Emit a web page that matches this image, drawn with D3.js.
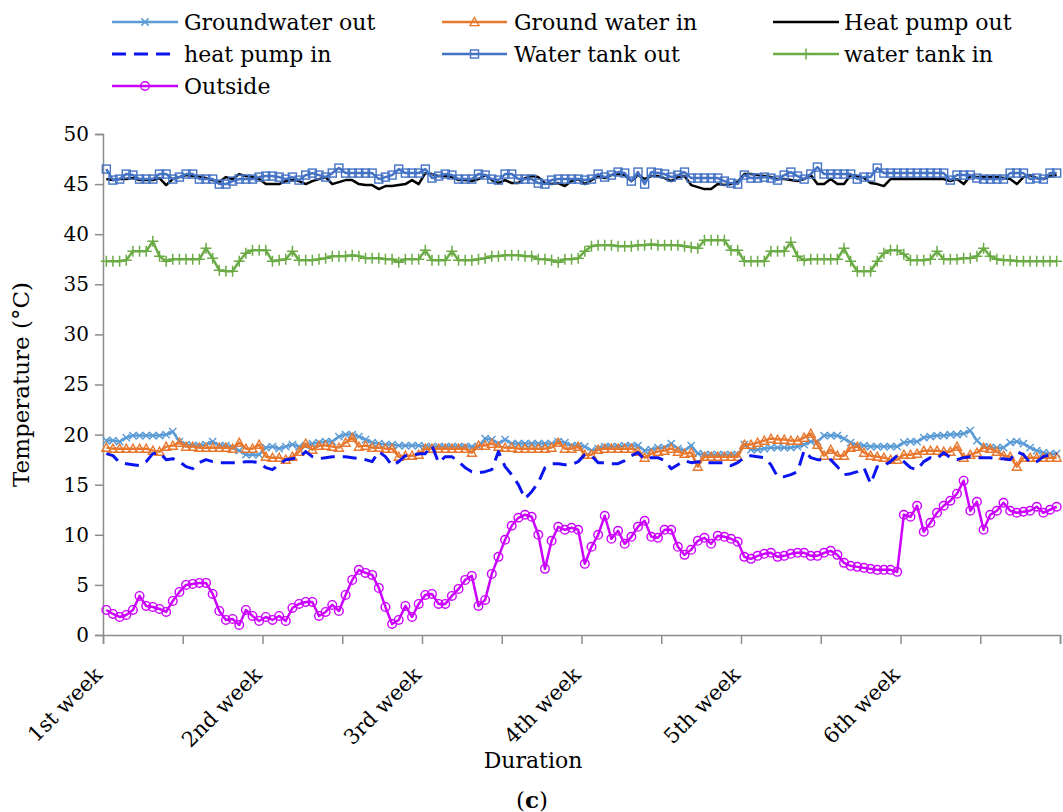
<!DOCTYPE html>
<html>
<head>
<meta charset="utf-8">
<script src="https://cdn.jsdelivr.net/npm/d3@7"></script>
<style>
  html, body { margin: 0; padding: 0; background: #fff; }
  svg { display: block; }
  text { font-family: "DejaVu Serif", serif; fill: #000; }
</style>
</head>
<body>
<svg id="chart" width="1063" height="812"></svg>
<script>
// ---------- data (144 readings, 24 per week) ----------
const weekLabels = ["1st week", "2nd week", "3rd week", "4th week", "5th week", "6th week"];
const yTicks = [0, 5, 10, 15, 20, 25, 30, 35, 40, 45, 50];

const groundwaterOut = [
  19.4,19.4,19.3,19.7,19.9,19.9,19.9,19.9,19.9,20.0,
  20.3,19.3,19.0,18.9,18.9,19.0,19.3,18.9,18.9,18.7,
  18.4,18.0,18.0,18.0,18.7,18.8,18.6,18.8,19.0,18.8,
  18.9,19.1,19.2,19.3,19.3,19.8,20.0,20.0,19.8,19.5,
  19.2,19.1,19.0,19.0,18.9,18.9,18.9,18.9,18.8,18.8,
  18.8,18.8,18.8,18.8,18.8,18.8,18.8,19.6,19.5,19.1,
  19.5,19.1,19.1,19.1,19.1,19.1,19.1,19.1,19.3,19.2,
  18.9,18.9,18.8,18.4,18.6,18.8,18.8,18.8,18.9,18.9,
  18.9,18.4,18.5,18.7,18.7,19.1,18.6,18.4,18.9,18.1,
  18.0,18.0,18.0,18.0,18.0,18.0,19.0,18.5,18.5,18.6,
  18.7,18.7,18.7,18.7,18.8,19.0,19.3,19.3,19.9,19.9,
  19.9,19.6,19.2,18.9,18.9,18.8,18.8,18.8,18.8,18.8,
  19.2,19.3,19.3,19.7,19.8,19.9,19.9,20.0,20.0,20.1,
  20.4,19.4,18.8,18.7,18.7,18.7,19.2,19.3,19.1,18.7,
  18.4,18.2,18.1,18.1
];
const groundWaterIn = [
  18.7,18.6,18.6,18.6,18.6,18.6,18.6,18.4,18.3,18.8,
  18.9,19.2,18.8,18.8,18.7,18.7,18.7,18.7,18.7,18.6,
  19.2,18.6,18.6,19.0,17.8,17.7,17.7,17.5,17.8,18.3,
  19.1,18.5,18.9,18.9,18.8,18.7,19.2,19.7,18.8,18.9,
  18.7,18.7,18.6,18.6,17.8,17.9,17.9,18.0,18.6,18.6,
  18.6,18.6,18.6,18.6,18.6,18.2,18.9,18.9,19.1,18.8,
  18.7,18.7,18.6,18.6,18.6,18.6,18.6,18.7,19.2,18.6,
  18.6,18.8,18.0,18.0,18.5,18.6,18.6,18.6,18.6,18.6,
  18.3,17.7,18.1,18.3,18.4,18.6,18.3,18.1,18.2,16.8,
  17.8,17.8,17.8,17.8,17.8,17.8,19.0,19.0,19.2,19.4,
  19.6,19.5,19.5,19.4,19.4,19.7,20.1,19.0,17.9,18.5,
  17.9,17.9,18.7,18.8,18.2,17.9,17.8,17.7,17.5,17.5,
  18.0,18.0,18.1,18.4,18.4,18.4,18.3,18.3,18.8,17.7,
  18.0,18.2,18.7,18.6,18.3,17.9,17.8,16.8,17.7,17.7,
  17.7,17.7,17.7,17.7
];
const heatPumpOut = [
  45.5,45.4,45.5,45.5,45.6,45.4,45.4,45.4,45.6,44.9,
  45.5,45.7,45.9,45.8,45.7,45.6,45.4,45.2,45.7,45.5,
  46.0,45.8,45.7,45.5,45.0,45.0,45.0,45.3,45.4,45.3,
  45.0,45.3,45.5,45.7,45.0,45.2,45.4,45.4,45.0,44.9,
  44.9,44.5,44.8,44.8,44.9,45.0,45.4,45.0,46.1,46.0,
  45.8,45.8,45.7,45.4,45.4,45.3,45.5,45.9,45.4,45.1,
  45.4,45.1,45.1,45.6,45.8,45.7,45.1,45.0,45.1,44.8,
  45.3,45.5,45.0,45.4,45.8,45.6,45.9,46.0,45.9,45.3,
  45.9,45.5,45.8,45.8,45.6,45.3,45.7,45.8,44.9,44.7,
  44.5,44.5,45.0,44.9,45.0,45.2,46.0,46.0,45.9,45.8,
  45.7,45.5,45.5,45.4,45.3,45.5,45.9,45.0,45.0,45.5,
  45.0,45.0,45.9,45.8,45.6,45.1,45.0,44.8,45.5,45.5,
  45.5,45.5,45.5,45.5,45.5,45.5,45.5,45.3,45.5,45.0,
  45.8,45.7,45.7,45.7,45.7,45.6,45.5,45.0,45.7,45.9,
  45.6,45.5,45.8,45.9
];
const heatPumpIn = [
  18.1,17.9,17.2,17.1,17.0,16.9,17.3,18.1,18.2,17.5,
  17.6,17.3,16.8,16.6,17.2,17.5,17.3,17.2,17.2,17.2,
  17.2,17.3,17.3,17.2,16.7,16.5,17.0,17.5,17.6,17.7,
  18.3,17.8,17.6,17.7,17.8,17.8,17.8,17.7,17.6,17.5,
  17.3,18.3,17.8,16.9,17.3,17.9,17.9,18.1,18.1,18.9,
  17.2,17.8,17.8,17.3,16.7,16.3,16.2,16.3,16.5,18.3,
  16.8,16.0,15.0,13.6,14.3,15.2,16.7,17.1,17.1,17.0,
  17.0,17.3,18.0,17.9,17.2,17.2,17.1,17.1,17.4,17.9,
  18.2,17.5,17.7,17.7,17.4,16.6,17.0,17.4,17.2,17.3,
  17.2,17.2,17.2,17.2,16.9,17.2,17.7,17.9,17.8,17.7,
  17.0,15.8,15.8,16.0,16.3,18.4,17.7,17.5,17.5,17.5,
  16.8,16.0,16.1,16.3,16.7,15.1,16.8,16.9,17.3,17.9,
  17.3,16.7,16.5,17.3,17.7,17.6,18.2,17.7,17.5,17.7,
  17.8,17.7,17.7,17.7,17.6,17.6,17.5,18.3,18.0,17.2,
  17.3,17.8,18.0,18.1
];
const waterTankOut = [
  46.5,45.4,45.5,46.0,45.9,45.5,45.5,45.5,46.0,46.0,
  45.5,45.7,46.0,46.0,45.5,45.5,45.5,45.0,45.0,45.3,
  45.5,45.5,45.5,45.7,45.8,45.8,45.7,45.5,45.7,45.4,
  45.9,46.1,45.9,45.7,46.1,46.6,46.1,46.1,46.1,46.1,
  46.1,45.5,45.7,45.9,46.5,46.1,46.1,46.1,46.5,45.6,
  45.8,46.0,45.9,45.5,45.5,45.5,46.0,45.9,45.5,45.4,
  46.0,46.0,45.5,45.5,45.5,45.1,45.0,45.4,45.5,45.5,
  45.5,45.5,45.4,45.5,46.0,45.7,45.9,46.2,46.1,45.3,
  46.2,45.0,46.2,46.1,46.0,45.7,45.9,46.2,45.6,45.6,
  45.6,45.6,45.6,45.3,45.1,45.0,45.9,45.6,45.6,45.7,
  45.6,45.4,45.9,46.2,45.8,45.5,46.0,46.7,46.0,46.0,
  46.0,46.0,46.0,45.5,45.7,45.7,46.6,46.1,46.1,46.1,
  46.1,46.1,46.1,46.1,46.1,46.1,46.1,45.4,45.9,45.9,
  45.9,45.6,45.5,45.5,45.5,45.5,46.1,46.1,46.1,45.5,
  45.6,45.5,46.1,46.1
];
const waterTankIn = [
  37.3,37.3,37.3,37.4,38.3,38.3,38.3,39.3,37.8,37.3,
  37.5,37.5,37.5,37.5,37.5,38.6,37.6,36.4,36.3,36.3,
  37.3,38.1,38.4,38.4,38.4,37.3,37.4,37.5,38.3,37.4,
  37.4,37.4,37.5,37.6,37.8,37.8,37.8,37.9,37.8,37.6,
  37.6,37.6,37.5,37.5,37.2,37.5,37.5,37.5,38.4,37.4,
  37.4,37.4,38.3,37.4,37.4,37.4,37.5,37.6,37.8,37.8,
  37.9,37.9,37.9,37.8,37.8,37.5,37.5,37.4,37.2,37.5,
  37.5,37.6,38.3,38.8,38.9,38.9,38.9,38.8,38.8,38.8,
  38.9,38.9,39.0,38.9,38.9,38.9,38.9,38.8,38.7,38.6,
  39.4,39.4,39.4,39.4,38.4,38.4,37.3,37.3,37.3,37.3,
  38.3,38.3,38.3,39.2,37.8,37.4,37.5,37.5,37.5,37.5,
  37.5,38.6,37.3,36.3,36.3,36.3,37.3,38.1,38.4,38.4,
  38.0,37.4,37.4,37.4,37.5,38.3,37.5,37.5,37.5,37.6,
  37.6,37.8,38.6,37.8,37.5,37.4,37.4,37.3,37.3,37.3,
  37.3,37.3,37.3,37.3
];
const outside = [
  2.5,2.1,1.8,2.0,2.5,3.9,2.9,2.8,2.6,2.3,
  3.4,4.3,5.0,5.1,5.2,5.2,4.1,2.4,1.5,1.6,
  1.0,2.5,1.9,1.4,1.8,1.5,1.9,1.4,2.7,3.1,
  3.3,3.3,1.9,2.3,3.0,2.4,4.0,5.5,6.5,6.2,
  6.0,4.7,2.8,1.1,1.5,2.9,1.8,3.1,4.0,4.1,
  3.1,3.1,3.9,4.6,5.5,5.9,2.9,3.5,6.1,7.8,
  9.5,10.9,11.7,12.0,11.8,10.0,6.6,9.4,10.8,10.5,
  10.7,10.5,7.1,8.8,10.0,11.9,9.6,10.4,9.1,9.8,
  10.8,11.4,9.8,9.7,10.5,10.5,8.8,8.0,8.5,9.4,
  9.7,9.1,9.9,9.8,9.6,9.3,7.8,7.6,7.9,8.1,
  8.2,7.8,7.9,8.1,8.2,8.2,7.9,7.9,8.2,8.4,
  8.0,7.2,6.9,6.8,6.7,6.6,6.5,6.5,6.5,6.3,
  12.0,11.8,12.9,10.3,11.2,12.2,12.9,13.4,14.1,15.4,
  12.4,13.3,10.5,12.0,12.4,13.2,12.4,12.2,12.3,12.4,
  12.8,12.2,12.5,12.8
];

const seriesNames = ["Groundwater out", "Ground water in", "Heat pump out",
                     "heat pump in", "Water tank out", "water tank in", "Outside"];
const seriesValues = [groundwaterOut, groundWaterIn, heatPumpOut,
                      heatPumpIn, waterTankOut, waterTankIn, outside];

// ---------- styles ----------
const styles = [
  { color: "#5B9BD5", marker: "x",        width: 2.5, dash: null },
  { color: "#E8782F", marker: "triangle", width: 2.5, dash: null },
  { color: "#000000", marker: null,       width: 2.5, dash: null },
  { color: "#0A14F0", marker: null,       width: 3,   dash: "14,8" },
  { color: "#4472C4", marker: "square",   width: 2.5, dash: null },
  { color: "#6AAB45", marker: "plus",     width: 2.5, dash: null },
  { color: "#CC00FF", marker: "circle",   width: 2.5, dash: null }
];

const N = outside.length;
const svg = d3.select("#chart");

const margin = { left: 103, right: 1060, top: 134, bottom: 635 };
const x = d3.scaleLinear().domain([0, N]).range([margin.left, margin.right]);
const y = d3.scaleLinear().domain([0, 50]).range([margin.bottom, margin.top]);

const axisColor = "#8C8C8C";

// ---------- axes ----------
const xAxis = d3.axisBottom(x)
  .tickValues(d3.range(0, N + 1, 12))
  .tickSize(9)
  .tickFormat(d => (d % 24 === 0 && d / 24 < weekLabels.length) ? weekLabels[d / 24] : "");

const gx = svg.append("g")
  .attr("transform", `translate(0,${margin.bottom})`)
  .call(xAxis);
gx.select(".domain").attr("stroke", axisColor).attr("stroke-width", 1.5);
gx.selectAll(".tick line").attr("stroke", axisColor).attr("stroke-width", 1.5);
gx.selectAll(".tick text")
  .attr("font-family", "DejaVu Serif")
  .attr("font-size", 21)
  .attr("fill", "#000")
  .attr("text-anchor", "end")
  .attr("dy", null)
  .attr("y", 0)
  .attr("transform", "translate(0,41) rotate(-45)");

const yAxis = d3.axisLeft(y).tickValues(yTicks).tickSize(8).tickPadding(6);
const gy = svg.append("g")
  .attr("transform", `translate(${margin.left},0)`)
  .call(yAxis);
gy.select(".domain").attr("stroke", axisColor).attr("stroke-width", 1.5);
gy.selectAll(".tick line").attr("stroke", axisColor).attr("stroke-width", 1.5);
gy.selectAll(".tick text")
  .attr("font-family", "DejaVu Serif")
  .attr("font-size", 20)
  .attr("fill", "#000");

// axis titles
svg.append("text")
  .attr("x", 533).attr("y", 768)
  .attr("text-anchor", "middle")
  .attr("font-size", 22)
  .text("Duration");

svg.append("text")
  .attr("transform", `translate(29,${(margin.top + margin.bottom) / 2}) rotate(-90)`)
  .attr("text-anchor", "middle")
  .attr("font-size", 23)
  .text("Temperature (°C)");

const cap = svg.append("text")
  .attr("x", 532).attr("y", 808)
  .attr("text-anchor", "middle")
  .attr("font-size", 23);
cap.append("tspan").text("(");
cap.append("tspan").attr("font-weight", "bold").text("c");
cap.append("tspan").text(")");

// ---------- markers ----------
function drawMarker(g, type, cx, cy, color) {
  if (!type) return;
  if (type === "x") {
    const s = 3.6;
    g.append("path")
      .attr("d", `M${cx - s},${cy - s}L${cx + s},${cy + s}M${cx - s},${cy + s}L${cx + s},${cy - s}`)
      .attr("stroke", color).attr("stroke-width", 1.5).attr("fill", "none");
  } else if (type === "triangle") {
    const s = 4.5;
    g.append("path")
      .attr("d", `M${cx},${cy - s}L${cx + s},${cy + s * 0.8}L${cx - s},${cy + s * 0.8}Z`)
      .attr("stroke", color).attr("stroke-width", 1.4).attr("fill", "none");
  } else if (type === "square") {
    const s = 4;
    g.append("rect")
      .attr("x", cx - s).attr("y", cy - s).attr("width", 2 * s).attr("height", 2 * s)
      .attr("stroke", color).attr("stroke-width", 1.4).attr("fill", "none");
  } else if (type === "plus") {
    const s = 5.5;
    g.append("path")
      .attr("d", `M${cx - s},${cy}L${cx + s},${cy}M${cx},${cy - s}L${cx},${cy + s}`)
      .attr("stroke", color).attr("stroke-width", 1.5).attr("fill", "none");
  } else if (type === "circle") {
    g.append("circle")
      .attr("cx", cx).attr("cy", cy).attr("r", 4.3)
      .attr("stroke", color).attr("stroke-width", 1.4).attr("fill", "none");
  }
}

// ---------- series ----------
const line = d3.line()
  .x((d, i) => x(i + 0.5))
  .y(d => y(d));

seriesValues.forEach((vals, k) => {
  const st = styles[k];
  const g = svg.append("g").attr("class", "series");
  g.append("path")
    .datum(vals)
    .attr("d", line)
    .attr("fill", "none")
    .attr("stroke", st.color)
    .attr("stroke-width", st.width)
    .attr("stroke-linejoin", "round")
    .attr("stroke-dasharray", st.dash);
  if (st.marker) {
    const mg = g.append("g");
    vals.forEach((v, i) => drawMarker(mg, st.marker, x(i + 0.5), y(v), st.color));
  }
});

// ---------- legend ----------
const legCols = [
  { lx1: 112, lx2: 178, tx: 184 },
  { lx1: 442, lx2: 507, tx: 514 },
  { lx1: 773, lx2: 839, tx: 844 }
];
const legRows = [22, 54, 86];

seriesNames.forEach((name, k) => {
  const st = styles[k];
  const col = legCols[k % 3];
  const ry = legRows[Math.floor(k / 3)];
  const g = svg.append("g");
  g.append("line")
    .attr("x1", col.lx1).attr("x2", col.lx2)
    .attr("y1", ry).attr("y2", ry)
    .attr("stroke", st.color)
    .attr("stroke-width", st.width)
    .attr("stroke-dasharray", st.dash);
  drawMarker(g, st.marker, (col.lx1 + col.lx2) / 2, ry, st.color);
  g.append("text")
    .attr("x", col.tx).attr("y", ry + 8)
    .attr("font-size", 22)
    .text(name);
});
</script>
</body>
</html>
